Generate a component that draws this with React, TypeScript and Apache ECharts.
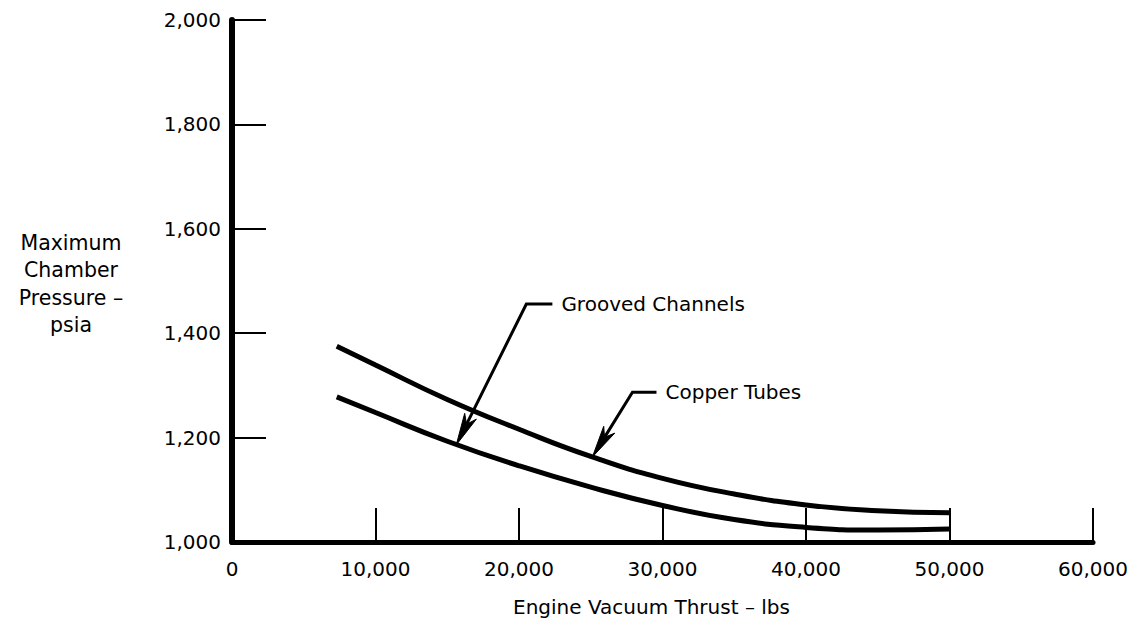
import React, { useEffect, useRef } from "react";
import * as echarts from "echarts";

const xTicks = [0, 10000, 20000, 30000, 40000, 50000, 60000];
const yTicks = [1000, 1200, 1400, 1600, 1800, 2000];
const thrust = [7300, 10000, 15000, 20000, 25000, 30000, 35000, 40000, 45000, 50000];
const copperTubes = [1375, 1339, 1273, 1216, 1164, 1122, 1092, 1071, 1060, 1056];
const groovedChannels = [1278, 1248, 1193, 1146, 1105, 1070, 1043, 1028, 1023, 1025];

const seriesNames = ["Copper Tubes", "Grooved Channels"];
// annotation leaders: [elbow, shoulder end, arrow tip] in data coordinates
const groovedLeader = [[20512, 1456], [22326, 1456], [15628, 1186]];
const copperLeader = [[27907, 1287], [29581, 1287], [25116, 1163]];

const axisTitleX = "Engine Vacuum Thrust – lbs";
const axisTitleY = "Maximum\nChamber\nPressure –\npsia";

const FONT = "DejaVu Sans";

const fmt = (v: number) => v.toLocaleString("en-US");

export default function App() {
  const ref = useRef<HTMLDivElement>(null);

  useEffect(() => {
    if (!ref.current) return;
    const chart = echarts.init(ref.current, undefined, { renderer: "svg" });
    const lineSeries = (name: string, data: number[]) => ({
      name,
      type: "line",
      data: thrust.map((x, i) => [x, data[i]]),
      smooth: 0.5,
      symbol: "none",
      lineStyle: { color: "#000", width: 5, cap: "butt" },
      z: 3,
    });
    chart.setOption({
      animation: false,
      backgroundColor: "#fff",
      grid: { left: 232, right: 47, top: 20, bottom: 80, containLabel: false },
      xAxis: {
        type: "value",
        min: xTicks[0],
        max: xTicks[xTicks.length - 1],
        interval: 10000,
        axisLine: { show: true, lineStyle: { color: "#000", width: 5 } },
        axisTick: { show: true, inside: true, length: 34, lineStyle: { color: "#000", width: 2 } },
        axisLabel: {
          color: "#000",
          fontFamily: FONT,
          fontSize: 20,
          margin: 17,
          formatter: (v: number) => fmt(v),
        },
        splitLine: { show: false },
      },
      yAxis: {
        type: "value",
        min: yTicks[0],
        max: yTicks[yTicks.length - 1],
        interval: 200,
        axisLine: { show: true, lineStyle: { color: "#000", width: 6 } },
        axisTick: { show: true, inside: true, length: 34, lineStyle: { color: "#000", width: 2 } },
        axisLabel: {
          color: "#000",
          fontFamily: FONT,
          fontSize: 20,
          margin: 11,
          formatter: (v: number) => fmt(v),
        },
        splitLine: { show: false },
      },
      series: [lineSeries(seriesNames[0], copperTubes), lineSeries(seriesNames[1], groovedChannels)],
    });

    const px = (p: number[]) => chart.convertToPixel({ gridIndex: 0 }, p) as number[];
    const arrowHead = (from: number[], tip: number[]) => {
      const dx = tip[0] - from[0];
      const dy = tip[1] - from[1];
      const len = Math.hypot(dx, dy);
      const ux = dx / len, uy = dy / len;
      const nx = -uy, ny = ux;
      const L = 32, W = 6.5, notch = 9;
      return [
        [tip[0], tip[1]],
        [tip[0] - L * ux + W * nx, tip[1] - L * uy + W * ny],
        [tip[0] - (L - notch) * ux, tip[1] - (L - notch) * uy],
        [tip[0] - L * ux - W * nx, tip[1] - L * uy - W * ny],
      ];
    };
    const leader = (pts: number[][], label: string) => {
      const elbow = px(pts[0]);
      const shoulder = px(pts[1]);
      const tip = px(pts[2]);
      const ah = arrowHead(elbow, tip);
      return [
        {
          type: "polyline",
          shape: { points: [shoulder, elbow, ah[2]] },
          style: { stroke: "#000", lineWidth: 3, fill: null },
          z: 10,
        },
        {
          type: "polygon",
          shape: { points: ah },
          style: { fill: "#000", stroke: "#000", lineWidth: 1 },
          z: 10,
        },
        {
          type: "text",
          style: {
            text: label,
            x: shoulder[0] + 9,
            y: shoulder[1],
            textAlign: "left",
            textVerticalAlign: "middle",
            fontFamily: FONT,
            fontSize: 20,
            fill: "#000",
          },
          z: 10,
        },
      ];
    };

    chart.setOption({
      graphic: [
        {
          type: "text",
          style: {
            text: axisTitleY,
            x: 71,
            y: 284,
            textAlign: "center",
            textVerticalAlign: "middle",
            fontFamily: FONT,
            fontSize: 20.5,
            lineHeight: 27.5,
            fill: "#000",
          },
        },
        {
          type: "text",
          style: {
            text: axisTitleX,
            x: 513,
            y: 607,
            textAlign: "left",
            textVerticalAlign: "middle",
            fontFamily: FONT,
            fontSize: 20,
            fill: "#000",
          },
        },
        ...leader(groovedLeader, seriesNames[1]),
        ...leader(copperLeader, seriesNames[0]),
      ],
    });

    return () => chart.dispose();
  }, []);

  return (
    <div
      ref={ref}
      style={{ position: "fixed", left: 0, top: 0, width: 1140, height: 622, background: "#fff" }}
    />
  );
}
